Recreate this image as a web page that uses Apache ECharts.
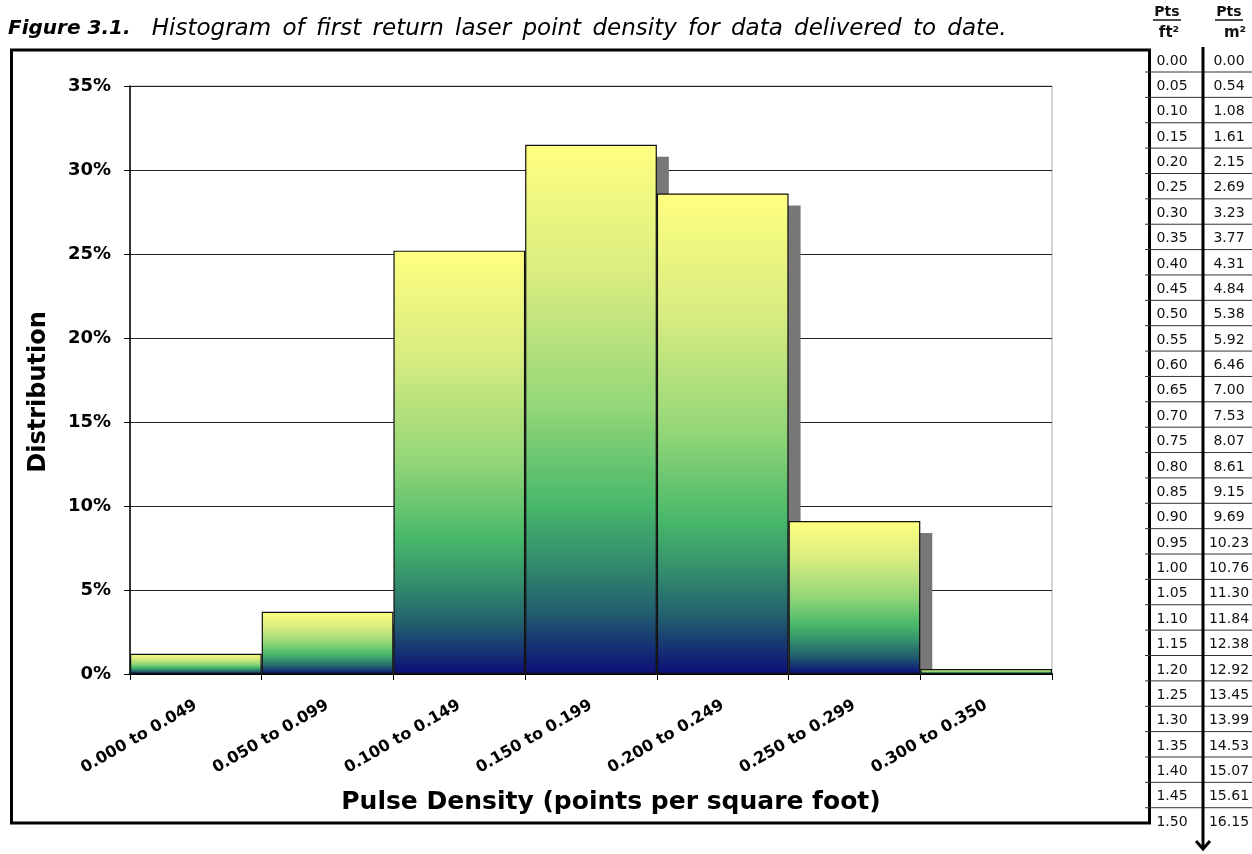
<!DOCTYPE html>
<html>
<head>
<meta charset="utf-8">
<script src="https://cdn.jsdelivr.net/npm/echarts@6/dist/echarts.min.js"></script>
<style>
html,body{margin:0;padding:0;background:#fff;}
#chart{width:1252px;height:854px;}
</style>
</head>
<body>
<div id="chart"></div>
<script>
// ---- data ----
const categories = ['0.000 to 0.049','0.050 to 0.099','0.100 to 0.149','0.150 to 0.199','0.200 to 0.249','0.250 to 0.299','0.300 to 0.350'];
const distribution = [1.2, 3.7, 25.2, 31.5, 28.6, 9.1, 0.3];
const yMin = 0, yMax = 35, yStep = 5;
const ptsPerFt2 = ['0.00','0.05','0.10','0.15','0.20','0.25','0.30','0.35','0.40','0.45','0.50','0.55','0.60','0.65','0.70','0.75','0.80','0.85','0.90','0.95','1.00','1.05','1.10','1.15','1.20','1.25','1.30','1.35','1.40','1.45','1.50'];
const ptsPerM2 = ['0.00','0.54','1.08','1.61','2.15','2.69','3.23','3.77','4.31','4.84','5.38','5.92','6.46','7.00','7.53','8.07','8.61','9.15','9.69','10.23','10.76','11.30','11.84','12.38','12.92','13.45','13.99','14.53','15.07','15.61','16.15'];
const titleBold = 'Figure 3.1.';
const titleRest = 'Histogram of first return laser point density for data delivered to date.';
const xTitle = 'Pulse Density (points per square foot)';
const yTitle = 'Distribution';

// ---- layout / style ----
const FONT = 'DejaVu Sans';
const chart = echarts.init(document.getElementById('chart'), null, {renderer:'canvas'});

const barGradient = new echarts.graphic.LinearGradient(0,0,0,1,[
  {offset:0, color:'#ffff80'},
  {offset:0.25, color:'#d8ec80'},
  {offset:0.5, color:'#92d678'},
  {offset:0.68, color:'#48b86a'},
  {offset:0.78, color:'#34906c'},
  {offset:0.88, color:'#22606e'},
  {offset:1, color:'#0c0e78'}
]);

// table graphics
const tbl = [];
const rowTop = 61, rowH = 25.37;
const col1 = 1172, col2 = 1229;
ptsPerFt2.forEach((v,i)=>{
  const y = rowTop + rowH*i;
  tbl.push({type:'text', x:col1, y:y, style:{text:v, font:'14px "'+FONT+'"', fill:'#111', textAlign:'center', textVerticalAlign:'middle'}, z:10});
  tbl.push({type:'text', x:col2, y:y, style:{text:ptsPerM2[i], font:'14px "'+FONT+'"', fill:'#111', textAlign:'center', textVerticalAlign:'middle'}, z:10});
  if (i < ptsPerFt2.length-1) {
    tbl.push({type:'line', shape:{x1:1145, y1:y+11, x2:1252, y2:y+11}, style:{stroke:'#333', lineWidth:1}, z:9});
  }
});
// headers
[['Pts', col1-5, 12], ['Pts', col2, 12]].forEach(h=>{
  tbl.push({type:'text', x:h[1], y:h[2], style:{text:h[0], font:'bold 14px "'+FONT+'"', fill:'#111', textAlign:'center', textVerticalAlign:'middle'}, z:10});
  tbl.push({type:'line', shape:{x1:h[1]-14, y1:h[2]+8, x2:h[1]+14, y2:h[2]+8}, style:{stroke:'#111', lineWidth:1.5}, z:10});
});
tbl.push({type:'text', x:col1-3, y:33, style:{text:'ft²', font:'bold 15px "'+FONT+'"', fill:'#111', textAlign:'center', textVerticalAlign:'middle'}, z:10});
tbl.push({type:'text', x:col2+6, y:33, style:{text:'m²', font:'bold 15px "'+FONT+'"', fill:'#111', textAlign:'center', textVerticalAlign:'middle'}, z:10});
// outer chart box
tbl.push({type:'rect', shape:{x:11.5, y:50, width:1138, height:773}, style:{fill:null, stroke:'#000', lineWidth:3}, z:5});
// middle column line + arrow
tbl.push({type:'line', shape:{x1:1203, y1:47, x2:1203, y2:849}, style:{stroke:'#000', lineWidth:3}, z:10});
tbl.push({type:'polyline', shape:{points:[[1196,841],[1203,849],[1210,841]]}, style:{stroke:'#000', lineWidth:3, fill:null}, z:10});
// title (words as rich tokens so word spacing can be widened slightly)
const restTokens = titleRest.split(' ').map(w=>'{n|'+w+'}').join('{g| }');
tbl.push({type:'text', x:8, y:29, style:{
  text:'{b|'+titleBold+'}{h| }'+restTokens,
  rich:{
    b:{font:'italic bold 20px "'+FONT+'"', fill:'#000'},
    n:{font:'italic 23px "'+FONT+'"', fill:'#000'},
    g:{font:'italic 23px "'+FONT+'"', fill:'#000', padding:[0,2,0,2]},
    h:{font:'italic 23px "'+FONT+'"', fill:'#000', padding:[0,7,0,7]}
  },
  textVerticalAlign:'middle'}, z:10});

const option = {
  animation:false,
  backgroundColor:'#fff',
  grid:{left:130, right:200, top:86, bottom:180, show:true, borderColor:'#aaa', borderWidth:1, backgroundColor:'#fff'},
  xAxis:{
    type:'category', data:categories,
    name:xTitle, nameLocation:'middle', nameGap:116,
    nameTextStyle:{fontFamily:FONT, fontWeight:'bold', fontSize:25, color:'#000', padding:[0,0,0,40]},
    axisLine:{lineStyle:{color:'#000', width:2}},
    axisTick:{show:true, length:6, lineStyle:{color:'#000', width:1}},
    axisLabel:{rotate:30, margin:30, fontFamily:FONT, fontWeight:'bold', fontSize:16, color:'#000'}
  },
  yAxis:{
    type:'value', min:yMin, max:yMax, interval:yStep,
    name:yTitle, nameLocation:'middle', nameGap:79,
    nameTextStyle:{fontFamily:FONT, fontWeight:'bold', fontSize:24, color:'#000', padding:[0,24,0,0]},
    axisLine:{show:true, lineStyle:{color:'#000', width:1.5}},
    axisTick:{show:true, length:6, lineStyle:{color:'#000'}},
    axisLabel:{formatter:'{value}%', margin:19, fontFamily:FONT, fontWeight:'bold', fontSize:18, color:'#000'},
    splitLine:{show:true, lineStyle:{color:'#222', width:1}}
  },
  series:[
    {
      type:'custom', z:1,
      data:distribution.map((v,i)=>[i,v]),
      renderItem:function(params, api){
        const top = api.coord([api.value(0), api.value(1)]);
        const base = api.coord([api.value(0), 0]);
        const w = api.size([1,0])[0];
        const off = 12;
        const h = base[1] - (top[1]+off);
        if (h <= 0) return null;
        return {type:'rect', shape:{x:top[0]-w/2+off, y:top[1]+off, width:w, height:h}, style:{fill:'#777777'}};
      }
    },
    {
      type:'bar', z:2, data:distribution, barWidth:'100%', barCategoryGap:0,
      itemStyle:{color:barGradient, borderColor:'#111', borderWidth:1.2}
    }
  ],
  graphic:tbl
};
chart.setOption(option);
</script>
</body>
</html>
